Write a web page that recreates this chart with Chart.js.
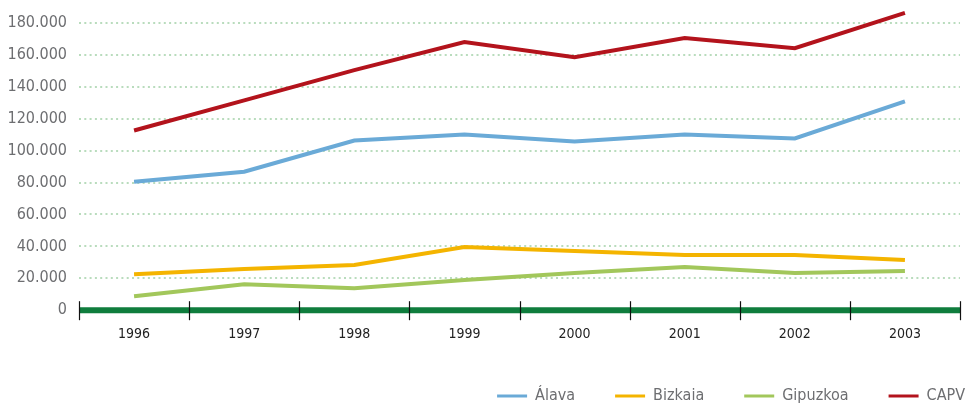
<!DOCTYPE html>
<html>
<head>
<meta charset="utf-8">
<script src="https://cdn.jsdelivr.net/npm/chart.js@4"></script>
<style>
  html, body { margin: 0; padding: 0; background: #fff; }
  #wrap { width: 972px; height: 407px; position: relative; }
</style>
</head>
<body>
<div id="wrap"><canvas id="chart"></canvas></div>
<script>
const years = ['1996', '1997', '1998', '1999', '2000', '2001', '2002', '2003'];
const yTicks = [0, 20000, 40000, 60000, 80000, 100000, 120000, 140000, 160000, 180000];
const alava = [80500, 86800, 106300, 110100, 105700, 110100, 107600, 130900];
const bizkaia = [22600, 25800, 28300, 39600, 37100, 34600, 34600, 31500];
const gipuzkoa = [8800, 16300, 13800, 18900, 23300, 27000, 23300, 24500];
const capv = [112600, 131500, 150400, 168000, 158600, 170500, 164200, 186300];

const textColor = '#6d6e71';
const fontFamily = '"DejaVu Sans Condensed", "Liberation Sans Narrow", sans-serif';

function fmt(v) {
  return String(v).replace(/\B(?=(\d{3})+(?!\d))/g, '.');
}

// green baseline with tick marks crossing it at the category edges
const axisLine = {
  id: 'axisLine',
  afterDatasetsDraw(chart) {
    const { ctx, chartArea } = chart;
    const y0 = chart.scales.y.getPixelForValue(0);
    ctx.save();
    ctx.strokeStyle = '#0f7d3d';
    ctx.lineWidth = 6;
    ctx.beginPath();
    ctx.moveTo(chartArea.left, y0);
    ctx.lineTo(chartArea.right, y0);
    ctx.stroke();
    ctx.strokeStyle = '#111';
    ctx.lineWidth = 1.2;
    const step = (chartArea.right - chartArea.left) / years.length;
    for (let i = 0; i <= years.length; i++) {
      const px = Math.round(chartArea.left + i * step) + 0.5;
      ctx.beginPath();
      ctx.moveTo(px, y0 - 9);
      ctx.lineTo(px, y0 + 10);
      ctx.stroke();
    }
    ctx.restore();
  }
};

// keep the wide item spacing of the legend but give it a short box,
// then nudge where it is drawn (bottom stays put so nothing is clipped)
const legendBox = {
  id: 'legendBox',
  beforeUpdate(chart) {
    const legend = chart.legend;
    if (!legend || legend._fitPatched) return;
    const fit = legend.fit;
    legend.fit = function () {
      fit.call(this);
      this.height = 48;
    };
    legend._fitPatched = true;
  },
  afterLayout(chart) {
    const legend = chart.legend;
    legend.top -= 11;
    legend.left += 45;
    legend.right += 45;
  }
};

function series(label, data, color) {
  return {
    label: label,
    data: data,
    borderColor: color,
    backgroundColor: color,
    borderWidth: 4,
    pointRadius: 0,
    tension: 0,
    clip: false,
    borderCapStyle: 'butt'
  };
}

new Chart(document.getElementById('chart'), {
  type: 'line',
  data: {
    labels: years,
    datasets: [
      series('Álava', alava, '#6aaad7'),
      series('Bizkaia', bizkaia, '#f4b400'),
      series('Gipuzkoa', gipuzkoa, '#a2c75b'),
      series('CAPV', capv, '#b3131c')
    ]
  },
  plugins: [axisLine, legendBox],
  options: {
    responsive: true,
    maintainAspectRatio: false,
    animation: false,
    layout: { padding: { left: 0, right: 12, top: 7, bottom: 0 } },
    plugins: {
      tooltip: { enabled: false },
      legend: {
        position: 'bottom',
        align: 'end',
        labels: {
          color: textColor,
          font: { family: fontFamily, size: 16 },
          boxWidth: 30,
          boxHeight: 3,
          padding: 40,
          generateLabels(chart) {
            return chart.data.datasets.map((ds, i) => ({
              text: ds.label,
              fillStyle: ds.borderColor,
              strokeStyle: ds.borderColor,
              lineWidth: 0,
              fontColor: textColor,
              datasetIndex: i
            }));
          }
        }
      }
    },
    scales: {
      x: {
        offset: true,
        grid: { display: false, drawTicks: false },
        border: { display: false },
        ticks: {
          color: '#222',
          font: { family: fontFamily, size: 14 },
          padding: 16,
          maxRotation: 0
        }
      },
      y: {
        min: 0,
        max: 190000,
        afterBuildTicks(scale) {
          scale.ticks = yTicks.map(v => ({ value: v }));
        },
        afterFit(scale) {
          scale.width = 79;
          scale.paddingTop = 0;
        },
        grid: {
          color: '#b9dcbd',
          lineWidth: 2,
          drawTicks: false
        },
        border: { display: false, dash: [2, 3.3] },
        ticks: {
          color: textColor,
          font: { family: fontFamily, size: 16 },
          padding: 12,
          callback: v => fmt(v)
        }
      }
    }
  }
});
</script>
</body>
</html>
